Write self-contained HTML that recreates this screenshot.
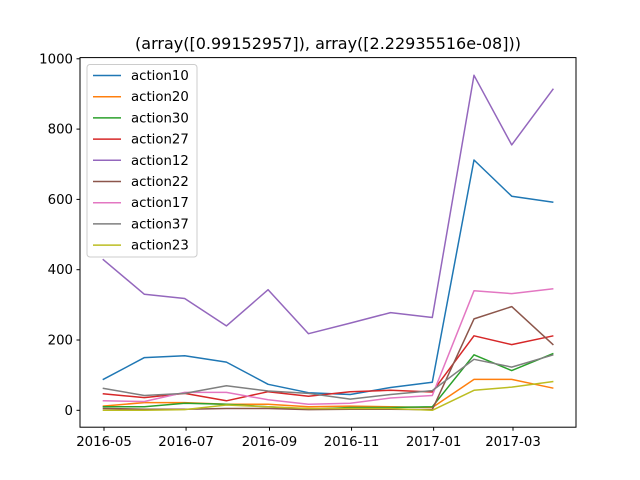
<!DOCTYPE html>
<html><head><meta charset="utf-8"><style>
body{margin:0;background:#fff;}
svg{display:block;font-family:"DejaVu Sans","Liberation Sans",sans-serif;}
</style></head><body>
<svg id="chart" width="640" height="480" viewBox="0 0 640 480">
<rect width="640" height="480" fill="#fff"/>
<text x="328" y="49" font-size="16" text-anchor="middle">(array([0.99152957]), array([2.22935516e-08]))</text>
<g id="plot"></g>
<rect x="80" y="57.6" width="496" height="369.6" fill="none" stroke="#000" stroke-width="1"/>
<g id="legend"></g>
</svg>
<script>
const dates = ["2016-04-30","2016-05-31","2016-06-30","2016-07-31","2016-08-31","2016-09-30","2016-10-31","2016-11-30","2016-12-31","2017-01-31","2017-02-28","2017-03-31"];
const seriesNames = ["action10","action20","action30","action27","action12","action22","action17","action37","action23"];
const colors = ["#1f77b4","#ff7f0e","#2ca02c","#d62728","#9467bd","#8c564b","#e377c2","#7f7f7f","#bcbd22"];
const action10 = [87,150,155,137,74,50,45,65,80,712,609,592];
const action20 = [12,22,22,17,17,10,12,10,8,88,88,63];
const action30 = [10,10,20,17,10,3,8,8,10,158,113,162];
const action27 = [47,36,48,27,53,40,53,57,52,212,187,212];
const action12 = [430,330,318,240,343,218,248,278,264,953,755,915];
const action22 = [5,3,3,5,5,2,3,3,2,260,295,186];
const action17 = [27,25,51,51,30,17,20,35,42,340,332,346];
const action37 = [63,42,48,70,55,48,32,45,56,145,123,158];
const action23 = [0,0,2,15,10,5,5,5,0,57,66,82];
const yTicks = [0,200,400,600,800,1000];
const xTickDates = ["2016-05-01","2016-07-01","2016-09-01","2016-11-01","2017-01-01","2017-03-01"];
const xTickLabels = ["2016-05","2016-07","2016-09","2016-11","2017-01","2017-03"];

const allSeries = [action10,action20,action30,action27,action12,action22,action17,action37,action23];
const NS="http://www.w3.org/2000/svg";
const base = Date.parse("2016-05-01");
function xs(d){return 104 + (Date.parse(d)-base)/86400000*1.3454;}
function ys(v){return 410.3 - v*0.3515;}
const plot=document.getElementById('plot');
const svg=document.getElementById('chart');
function mk(tag,attrs,parent){const e=document.createElementNS(NS,tag);for(const k in attrs)e.setAttribute(k,attrs[k]);parent.appendChild(e);return e;}
yTicks.forEach(v=>{
  const y=ys(v);
  const t=mk('line',{x1:76.5,x2:80,y1:y,y2:y,stroke:'#000'},svg);
  
  
  const l=mk('text',{x:73,y:y+4.5,'font-size':13.3,'text-anchor':'end'},svg);
  l.textContent=v;
  
  
});
xTickDates.forEach((d,i)=>{
  const x=xs(d);
  const t=mk('line',{x1:x,x2:x,y1:427.2,y2:430.7,stroke:'#000'},svg);
  
  
  const l=mk('text',{x:x,y:446,'font-size':13.3,'text-anchor':'middle'},svg);
  l.textContent=xTickLabels[i];
  
  
});
allSeries.forEach((s,i)=>{
  const pts=s.map((v,j)=>xs(dates[j]).toFixed(1)+','+ys(v).toFixed(1)).join(' ');
  const p=mk('polyline',{points:pts,fill:'none',stroke:colors[i],'stroke-width':1.5,'stroke-linejoin':'round'},plot);
  
  
});
const lg=document.getElementById('legend');
const box=mk('rect',{x:87,y:64.5,width:110,height:192.5,rx:3,fill:'#fff','fill-opacity':0.8,stroke:'#ccc'},lg);


seriesNames.forEach((n,i)=>{
  const y=75.5+i*21.2;
  const ln=mk('line',{x1:93,x2:121,y1:y,y2:y,stroke:colors[i],'stroke-width':1.5},lg);
  
  
  const t=mk('text',{x:131,y:y+4.5,'font-size':13.3},lg);
  t.textContent=n;
  
  
});
</script>
</body></html>
